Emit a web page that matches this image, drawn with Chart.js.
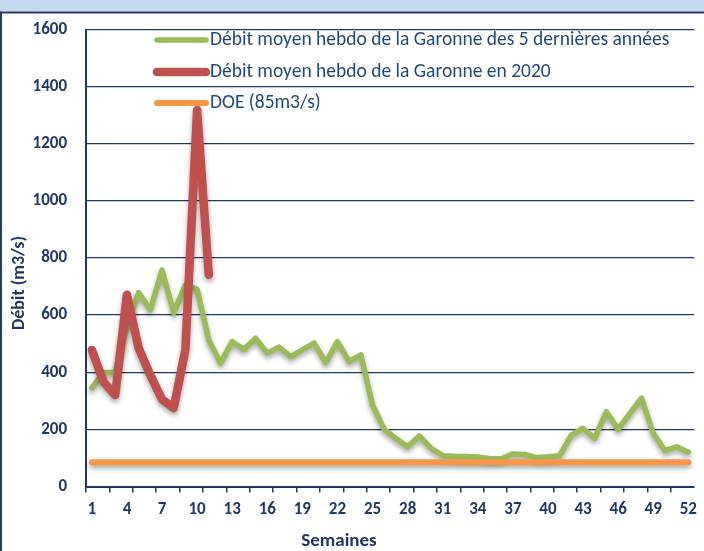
<!DOCTYPE html>
<html lang="fr">
<head>
<meta charset="utf-8">
<title>Débit de la Garonne</title>
<script src="https://cdn.jsdelivr.net/npm/chart.js@4.4.1/dist/chart.umd.min.js"></script>
<style>
  html, body { margin: 0; padding: 0; background: #fff; }
  canvas { display: block; }
</style>
</head>
<body>
<canvas id="debitChart" width="704" height="551"></canvas>
<script>
/* Débit hebdomadaire de la Garonne - moyenne 5 ans, 2020 et DOE */
const semaines = ['1','2','3','4','5','6','7','8','9','10','11','12','13','14','15','16','17','18','19','20',
  '21','22','23','24','25','26','27','28','29','30','31','32','33','34','35','36','37','38','39','40',
  '41','42','43','44','45','46','47','48','49','50','51','52'];

const moyenne5ans = [345, 399, 400, 560, 679, 618, 758, 608, 705, 690, 513, 432, 507, 480, 519, 467, 488, 455, 478, 502,
  434, 507, 437, 461, 285, 200, 168, 139, 177, 134, 108, 106, 105, 103, 97, 97, 114, 112, 101, 104,
  108, 180, 204, 169, 262, 200, 256, 309, 186, 126, 139, 120];

const debit2020 = [478, 367, 320, 671, 485, 390, 305, 275, 480, 1318, 741];

const doe = [85, 85, 85, 85, 85, 85, 85, 85, 85, 85, 85, 85, 85, 85, 85, 85, 85, 85, 85, 85,
  85, 85, 85, 85, 85, 85, 85, 85, 85, 85, 85, 85, 85, 85, 85, 85, 85, 85, 85, 85,
  85, 85, 85, 85, 85, 85, 85, 85, 85, 85, 85, 85];

const yTicks = [0, 200, 400, 600, 800, 1000, 1200, 1400, 1600];

const NAVY = '#1F3864';
const LEGEND_BLUE = '#1F497D';
const FONT = 'Carlito, Lato, sans-serif';

// cadre : bandeau bleu clair en haut + bordure à gauche
const framePlugin = {
  id: 'frame',
  beforeDraw(chart) {
    const ctx = chart.ctx;
    ctx.save();
    ctx.fillStyle = '#fff';
    ctx.fillRect(0, 0, chart.width, chart.height);
    ctx.fillStyle = '#C6D9F1';
    ctx.fillRect(0, 0, chart.width, 11.5);
    ctx.fillStyle = '#243F60';
    ctx.fillRect(0, 11.5, chart.width, 2);
    ctx.fillRect(0, 11.5, 2, chart.height);
    ctx.restore();
  }
};

// ombre portée sous les courbes, comme dans Excel
const shadowPlugin = {
  id: 'lineShadow',
  beforeDatasetDraw(chart) {
    const ctx = chart.ctx;
    ctx.save();
    ctx.shadowColor = 'rgba(0,0,0,0.35)';
    ctx.shadowBlur = 5;
    ctx.shadowOffsetY = 3;
  },
  afterDatasetDraw(chart) {
    chart.ctx.restore();
  }
};

// légende dans la zone du graphique + titres des axes
const overlayPlugin = {
  id: 'overlay',
  afterDraw(chart) {
    const ctx = chart.ctx;
    const rows = [40, 72, 103];
    ctx.save();
    chart.data.datasets.forEach((ds, i) => {
      const y = rows[i];
      ctx.strokeStyle = ds.borderColor;
      ctx.lineWidth = ds.borderWidth;
      ctx.lineCap = 'round';
      ctx.beginPath();
      ctx.moveTo(157, y);
      ctx.lineTo(206, y);
      ctx.stroke();
      ctx.fillStyle = LEGEND_BLUE;
      ctx.font = `19.5px ${FONT}`;
      ctx.textBaseline = 'middle';
      ctx.textAlign = 'left';
      ctx.fillText(ds.label, 210, y);
    });

    ctx.fillStyle = NAVY;
    ctx.font = `bold 19px ${FONT}`;
    ctx.textAlign = 'center';
    ctx.textBaseline = 'middle';
    ctx.fillText('Semaines', 339, 541);

    ctx.translate(19, 283);
    ctx.rotate(-Math.PI / 2);
    ctx.font = `bold 18px ${FONT}`;
    ctx.fillText('Débit (m3/s)', 0, 0);
    ctx.restore();
  }
};

const lineBase = { pointRadius: 0, tension: 0, borderCapStyle: 'round', borderJoinStyle: 'round', fill: false };

new Chart(document.getElementById('debitChart'), {
  type: 'line',
  data: {
    labels: semaines,
    datasets: [
      { ...lineBase, label: 'Débit moyen hebdo de la Garonne des 5 dernières années', data: moyenne5ans, borderColor: '#9BBB59', borderWidth: 5.5, order: 3 },
      { ...lineBase, label: 'Débit moyen hebdo de la Garonne en 2020', data: debit2020, borderColor: '#C0504D', borderWidth: 8.5, order: 2 },
      { ...lineBase, label: 'DOE (85m3/s)', data: doe, borderColor: '#F79646', borderWidth: 6, order: 1 }
    ]
  },
  options: {
    responsive: false,
    animation: false,
    layout: { padding: { top: 29.5, right: 7, left: 0, bottom: 0 } },
    plugins: { legend: { display: false }, tooltip: { enabled: false } },
    scales: {
      x: {
        offset: true,
        afterFit(scale) { scale.height = 64.5; },
        grid: {
          offset: true,
          drawOnChartArea: false,
          drawTicks: true,
          tickLength: 6,
          lineWidth: 1.5,
          color: ctx => (ctx.index % 2 === 0 ? NAVY : 'rgba(0,0,0,0)')
        },
        border: { color: NAVY, width: 2 },
        ticks: {
          autoSkip: false,
          maxRotation: 0,
          padding: 7,
          color: NAVY,
          font: { family: FONT, size: 17, weight: 'bold' },
          callback: (v, i) => (i % 3 === 0 ? semaines[i] : '')
        }
      },
      y: {
        min: 0,
        max: 1600,
        afterFit(scale) { scale.width = 86; },
        afterBuildTicks(scale) { scale.ticks = yTicks.map(v => ({ value: v })); },
        grid: { color: NAVY, lineWidth: 1.3, drawTicks: false },
        border: { color: NAVY, width: 2 },
        ticks: {
          padding: 19,
          color: NAVY,
          font: { family: FONT, size: 17, weight: 'bold' },
          callback: v => String(v)
        }
      }
    }
  },
  plugins: [framePlugin, shadowPlugin, overlayPlugin]
});
</script>
</body>
</html>
